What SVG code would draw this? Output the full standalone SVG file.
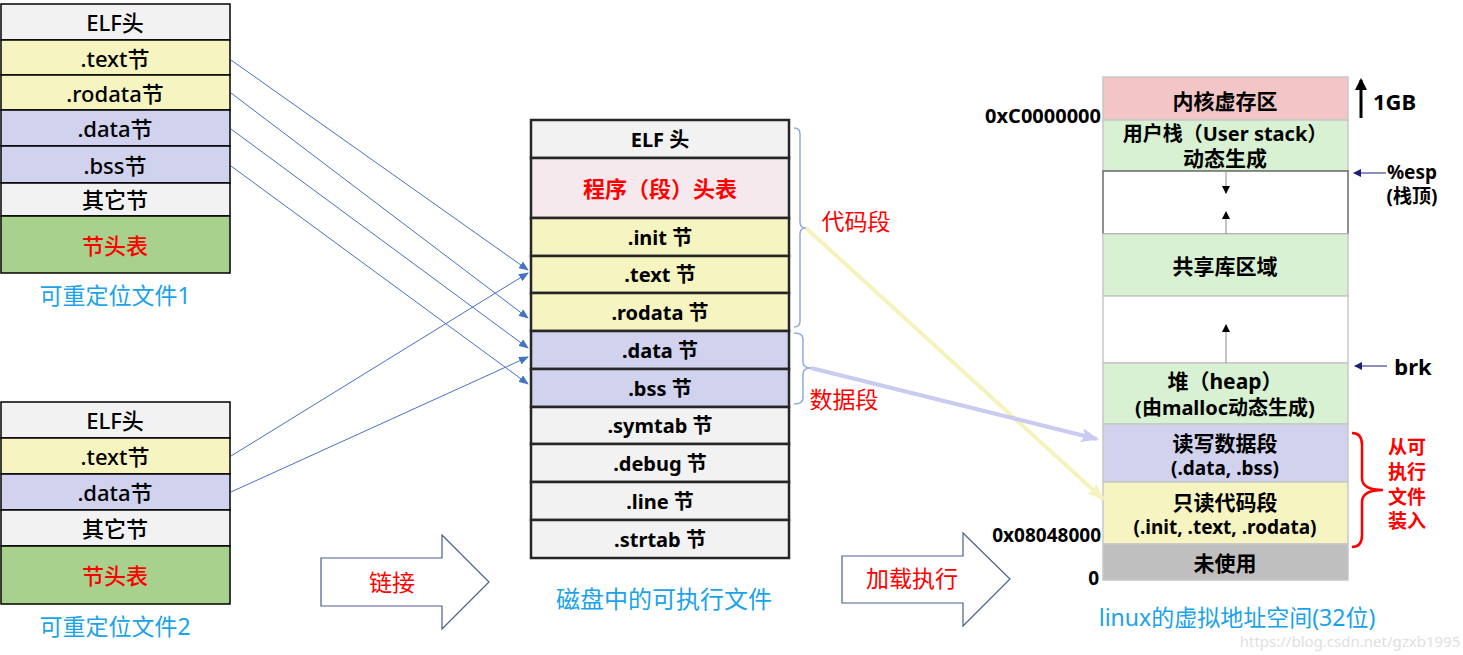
<svg xmlns="http://www.w3.org/2000/svg" width="1463" height="655" viewBox="0 0 1463 655">
<defs>
<style>
text{font-family:"Noto Sans","Noto Sans CJK SC",sans-serif;text-anchor:middle;dominant-baseline:central}
.l{font-size:22px;font-weight:500;fill:#000}
.m{font-size:20px;font-weight:bold;fill:#000}
.r{font-size:21px;font-weight:bold;fill:#000}
.red{fill:#FF0000}
.cap{font-size:23px;fill:#1AA3E8}
.lb{stroke:#000;stroke-width:1.5}
.mb{stroke:#262626;stroke-width:2.5}
.rb{stroke:#C8C8C8;stroke-width:1.5}
.g{fill:#F2F2F2}.y{fill:#F6F4C1}.b{fill:#D0D2EE}.gr{fill:#A9D18E}.pk{fill:#F5E9EE}
.kp{fill:#F2C6C6}.lg{fill:#D8F1D3}.w{fill:#FFFFFF}.dg{fill:#BFBFBF}
.link{stroke:#4472C4;stroke-width:1;fill:none}
.brk{stroke:#8FAADC;stroke-width:1.5;fill:none}
</style>
<marker id="ab" markerWidth="10" markerHeight="8" refX="9" refY="4" orient="auto" markerUnits="userSpaceOnUse"><path d="M0,0 L10,4 L0,8 Z" fill="#4472C4"/></marker>
<marker id="ay" markerWidth="18" markerHeight="14" refX="16" refY="7" orient="auto" markerUnits="userSpaceOnUse"><path d="M0,0 L18,7 L0,14 L4,7 Z" fill="#F5F3BC"/></marker>
<marker id="av" markerWidth="18" markerHeight="14" refX="16" refY="7" orient="auto" markerUnits="userSpaceOnUse"><path d="M0,0 L18,7 L0,14 L4,7 Z" fill="#C9CBF0"/></marker>
<marker id="ak" markerWidth="8" markerHeight="8" refX="7" refY="4" orient="auto" markerUnits="userSpaceOnUse"><path d="M0,0 L8,4 L0,8 Z" fill="#000"/></marker>
<marker id="an" markerWidth="8" markerHeight="8" refX="7" refY="4" orient="auto" markerUnits="userSpaceOnUse"><path d="M0,0 L8,4 L0,8 Z" fill="#1F1F7A"/></marker>
<marker id="a1" markerWidth="12" markerHeight="12" refX="10" refY="6" orient="auto" markerUnits="userSpaceOnUse"><path d="M0,0 L12,6 L0,12 Z" fill="#000"/></marker>
</defs>
<rect width="1463" height="655" fill="#FFFFFF"/>

<g id="reloc1">
<rect class="lb g" x="1" y="4" width="229" height="36"/>
<rect class="lb y" x="1" y="40" width="229" height="35"/>
<rect class="lb y" x="1" y="75" width="229" height="35"/>
<rect class="lb b" x="1" y="110" width="229" height="36"/>
<rect class="lb b" x="1" y="146" width="229" height="37"/>
<rect class="lb g" x="1" y="183" width="229" height="33"/>
<rect class="lb gr" x="1" y="216" width="229" height="57"/>
<text class="l" x="115" y="22">ELF头</text>
<text class="l" x="115" y="58">.text节</text>
<text class="l" x="115" y="93">.rodata节</text>
<text class="l" x="115" y="128">.data节</text>
<text class="l" x="115" y="165">.bss节</text>
<text class="l" x="115" y="199">其它节</text>
<text class="l red" x="115" y="245">节头表</text>
<text class="cap" x="115" y="295">可重定位文件1</text>
</g>

<g id="reloc2">
<rect class="lb g" x="1" y="402" width="229" height="36"/>
<rect class="lb y" x="1" y="438" width="229" height="36"/>
<rect class="lb b" x="1" y="474" width="229" height="36"/>
<rect class="lb g" x="1" y="510" width="229" height="36"/>
<rect class="lb gr" x="1" y="546" width="229" height="58"/>
<text class="l" x="115" y="420">ELF头</text>
<text class="l" x="115" y="456">.text节</text>
<text class="l" x="115" y="492">.data节</text>
<text class="l" x="115" y="528">其它节</text>
<text class="l red" x="115" y="575">节头表</text>
<text class="cap" x="115" y="626">可重定位文件2</text>
</g>

<g id="exe">
<rect class="mb g" x="531" y="120" width="258" height="38"/>
<rect class="mb pk" x="531" y="158" width="258" height="60"/>
<rect class="mb y" x="531" y="218" width="258" height="38"/>
<rect class="mb y" x="531" y="256" width="258" height="37"/>
<rect class="mb y" x="531" y="293" width="258" height="38"/>
<rect class="mb b" x="531" y="331" width="258" height="38"/>
<rect class="mb b" x="531" y="369" width="258" height="38"/>
<rect class="mb g" x="531" y="407" width="258" height="37"/>
<rect class="mb g" x="531" y="444" width="258" height="38"/>
<rect class="mb g" x="531" y="482" width="258" height="38"/>
<rect class="mb g" x="531" y="520" width="258" height="38"/>
<text class="m" x="660" y="139">ELF 头</text>
<text class="m red" x="660" y="188" style="font-size:22px">程序（段）头表</text>
<text class="m" x="660" y="237">.init 节</text>
<text class="m" x="660" y="274">.text 节</text>
<text class="m" x="660" y="312">.rodata 节</text>
<text class="m" x="660" y="350">.data 节</text>
<text class="m" x="660" y="388">.bss 节</text>
<text class="m" x="660" y="425">.symtab 节</text>
<text class="m" x="660" y="463">.debug 节</text>
<text class="m" x="660" y="501">.line 节</text>
<text class="m" x="660" y="539">.strtab 节</text>
<text class="cap" x="664" y="598" style="font-size:24px">磁盘中的可执行文件</text>
</g>

<g id="segments">
<path class="brk" d="M794,128 Q800,128 800,134 L800,222 Q800,228 806,228 Q800,228 800,234 L800,321 Q800,327 794,327"/>
<path class="brk" d="M794,333 Q803,333 803,339 L803,362 Q803,368 811,368 Q803,368 803,374 L803,398 Q803,404 794,404"/>
<text class="red" x="856" y="221" style="font-size:23px">代码段</text>
<text class="red" x="844" y="399" style="font-size:23px">数据段</text>
</g>

<g id="vmem">
<rect class="rb kp" x="1103" y="77" width="245" height="43"/>
<rect class="rb lg" x="1103" y="120" width="245" height="51"/>
<rect x="1103" y="171" width="245" height="63" fill="#FFFFFF" stroke="#6A6A6A" stroke-width="1.5"/>
<rect class="rb lg" x="1103" y="234" width="245" height="62"/>
<rect class="rb w" x="1103" y="296" width="245" height="67"/>
<rect class="rb lg" x="1103" y="363" width="245" height="61"/>
<rect class="rb b" x="1103" y="424" width="245" height="58"/>
<rect class="rb y" x="1103" y="482" width="245" height="62"/>
<rect class="rb dg" x="1103" y="544" width="245" height="36"/>
<text class="r" x="1225" y="101">内核虚存区</text>
<text class="r" x="1225" y="133" style="font-size:20px">用户栈（User stack）</text>
<text class="r" x="1225" y="158">动态生成</text>
<line x1="1226" y1="171" x2="1226" y2="193" stroke="#8C8C8C" stroke-width="1" marker-end="url(#ak)"/>
<line x1="1226" y1="234" x2="1226" y2="212" stroke="#8C8C8C" stroke-width="1" marker-end="url(#ak)"/>
<text class="r" x="1225" y="266">共享库区域</text>
<line x1="1226" y1="363" x2="1226" y2="325" stroke="#8C8C8C" stroke-width="1" marker-end="url(#ak)"/>
<text class="r" x="1225" y="381">堆（heap）</text>
<text class="r" x="1225" y="407" style="font-size:20px">(由malloc动态生成)</text>
<text class="r" x="1225" y="443">读写数据段</text>
<text class="r" x="1225" y="468" style="font-size:19px">(.data, .bss)</text>
<text class="r" x="1225" y="502">只读代码段</text>
<text class="r" x="1225" y="527" style="font-size:19px">(.init, .text, .rodata)</text>
<text class="r" x="1225" y="563">未使用</text>
<text class="r" x="1101" y="115" style="text-anchor:end;font-size:20px">0xC0000000</text>
<text class="r" x="1101" y="535" style="text-anchor:end;font-size:19px">0x08048000</text>
<text class="r" x="1099" y="578" style="text-anchor:end;font-size:19px">0</text>
<text class="cap" x="1237" y="617">linux的虚拟地址空间(32位)</text>
</g>

<g id="annotations">
<line x1="1361" y1="118" x2="1361" y2="80" stroke="#000" stroke-width="3" marker-end="url(#a1)"/>
<text class="r" x="1373" y="101" style="text-anchor:start;font-size:22px">1GB</text>
<line x1="1386" y1="173" x2="1354" y2="173" stroke="#1F1F7A" stroke-width="1" marker-end="url(#an)"/>
<text class="r" x="1412" y="172" style="font-size:19px">%esp</text>
<text class="r" x="1412" y="196" style="font-size:19px">(栈顶)</text>
<line x1="1387" y1="366" x2="1355" y2="366" stroke="#1F1F7A" stroke-width="1" marker-end="url(#an)"/>
<text class="r" x="1413" y="366" style="font-size:22px">brk</text>
<path d="M1352,433 Q1362,433 1362,445 L1362,478 Q1362,490 1383,490 Q1362,490 1362,502 L1362,535 Q1362,547 1352,547" fill="none" stroke="#FF0000" stroke-width="2.5"/>
<text class="r red" x="1407" y="447" style="font-size:19px">从可</text>
<text class="r red" x="1407" y="472" style="font-size:19px">执行</text>
<text class="r red" x="1407" y="497" style="font-size:19px">文件</text>
<text class="r red" x="1407" y="521" style="font-size:19px">装入</text>
</g>

<g id="bigarrow-link">
<path d="M321,558 L442,558 L442,535 L489,582 L442,629 L442,606 L321,606 Z" fill="#FFFFFF" stroke="#4A5F8E" stroke-width="1.2"/>
<text class="red" x="392" y="582" style="font-size:23px">链接</text>
</g>
<g id="bigarrow-load">
<path d="M842,556 L963,556 L963,533 L1010,579 L963,626 L963,603 L842,603 Z" fill="#FFFFFF" stroke="#4A5F8E" stroke-width="1.2"/>
<text class="red" x="912" y="578" style="font-size:23px">加载执行</text>
</g>

<g id="connectors">
<line class="link" x1="231" y1="60" x2="528" y2="270" marker-end="url(#ab)"/>
<line class="link" x1="231" y1="93" x2="528" y2="318" marker-end="url(#ab)"/>
<line class="link" x1="231" y1="129" x2="528" y2="348" marker-end="url(#ab)"/>
<line class="link" x1="231" y1="166" x2="528" y2="384" marker-end="url(#ab)"/>
<line class="link" x1="231" y1="456" x2="528" y2="273" marker-end="url(#ab)"/>
<line class="link" x1="231" y1="492" x2="528" y2="357" marker-end="url(#ab)"/>
<line x1="806" y1="228" x2="1103" y2="499" stroke="#F5F3BC" stroke-width="4" marker-end="url(#ay)"/>
<line x1="811" y1="368" x2="1097" y2="439" stroke="#C9CBF0" stroke-width="4" marker-end="url(#av)"/>
</g>

<text x="1350" y="641" style="font-size:15px;fill:#E0E0E0">https://blog.csdn.net/gzxb1995</text>
</svg>
